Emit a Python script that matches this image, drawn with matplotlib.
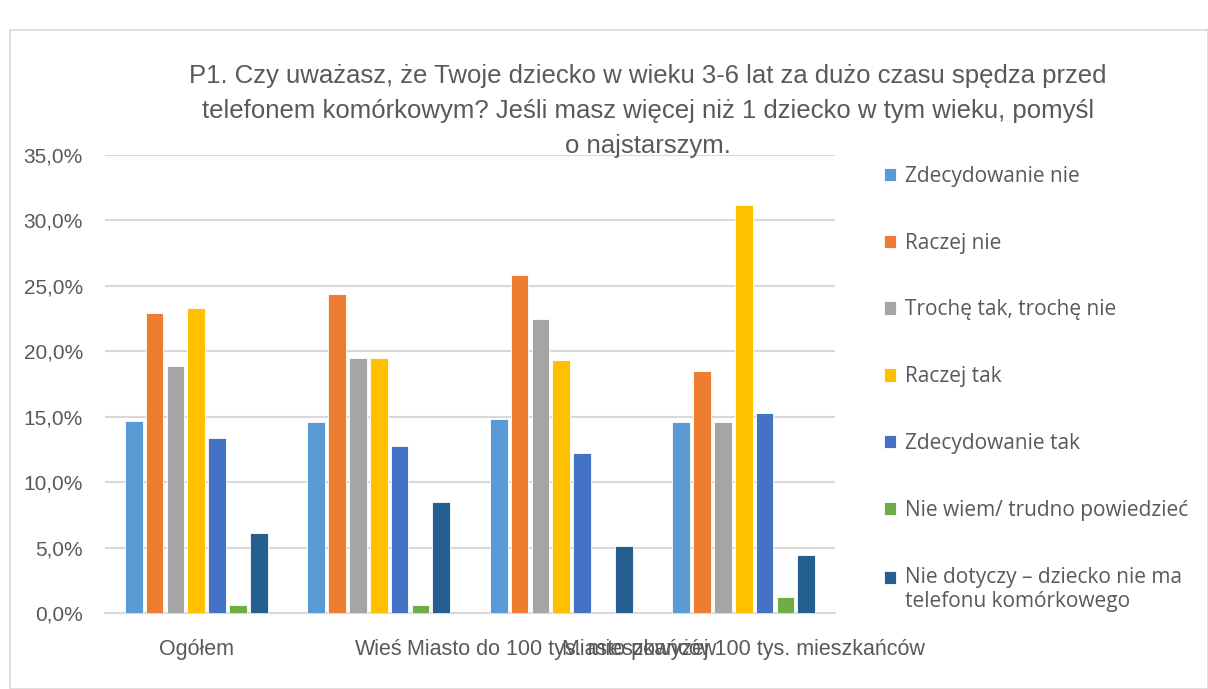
import numpy as np
import matplotlib
matplotlib.use('Agg')
import matplotlib.pyplot as plt
from matplotlib.ticker import FuncFormatter
from matplotlib.patches import Rectangle

kategorie = ['Ogółem', 'Wieś', 'Miasto do 100 tys. mieszkańców', 'Miasto powyżej 100 tys. mieszkańców']

odpowiedzi = ['Zdecydowanie nie', 'Raczej nie', 'Trochę tak, trochę nie', 'Raczej tak',
              'Zdecydowanie tak', 'Nie wiem/ trudno powiedzieć',
              'Nie dotyczy – dziecko nie ma\ntelefonu komórkowego']

zdecydowanie_nie = [14.7, 14.6, 14.8, 14.6]
raczej_nie = [22.9, 24.4, 25.8, 18.5]
troche = [18.9, 19.5, 22.5, 14.6]
raczej_tak = [23.3, 19.5, 19.3, 31.2]
zdecydowanie_tak = [13.4, 12.8, 12.2, 15.3]
nie_wiem = [0.6, 0.6, 0.0, 1.2]
nie_dotyczy = [6.1, 8.5, 5.1, 4.4]

serie = [zdecydowanie_nie, raczej_nie, troche, raczej_tak, zdecydowanie_tak, nie_wiem, nie_dotyczy]
kolory = ['#5B9BD5', '#ED7D31', '#A5A5A5', '#FFC000', '#4472C4', '#70AD47', '#255E91']

szary = '#595959'
font_tytul = ['Liberation Sans', 'DejaVu Sans']
font_tekst = ['Open Sans', 'DejaVu Sans']

fig = plt.figure(figsize=(12.08, 6.89), dpi=100)
# ramka wykresu
fig.patches.append(Rectangle((10 / 1208, 0), 1 - 10 / 1208, 1 - 30 / 689, transform=fig.transFigure,
                             fill=False, edgecolor='#D9D9D9', linewidth=1.2))

ax = fig.add_axes([105 / 1208, 1 - 613 / 689, 730 / 1208, 458 / 689])

x = np.arange(len(kategorie))
slot = 0.8 / len(serie)
for i, (wartosci, kolor) in enumerate(zip(serie, kolory)):
    pos = x - 0.4 + slot * (i + 0.5)
    ax.bar(pos, wartosci, width=slot * 0.85, color=kolor, edgecolor='white', linewidth=0.6,
           label=odpowiedzi[i], zorder=3)

ax.set_xlim(-0.5, len(kategorie) - 0.5)
ax.set_ylim(0, 35)
ax.set_yticks(np.arange(0, 36, 5))
ax.yaxis.set_major_formatter(FuncFormatter(lambda v, p: f'{v:.1f}%'.replace('.', ',')))
ax.grid(axis='y', color='#D9D9D9', linewidth=1.5, zorder=0)
for s in ['top', 'right', 'left']:
    ax.spines[s].set_visible(False)
ax.spines['bottom'].set_color('#D9D9D9')
ax.spines['bottom'].set_linewidth(1.5)
ax.tick_params(axis='both', length=0, colors=szary)
ax.tick_params(axis='y', pad=16)
ax.tick_params(axis='x', pad=19)
ax.set_xticks(x)
ax.set_xticklabels(kategorie, family=font_tytul, fontsize=15.5)
for lab in ax.get_yticklabels():
    lab.set_family(font_tytul)
    lab.set_fontsize(15)

fig.text(648 / 1208, 1 - 111 / 689,
         'P1. Czy uważasz, że Twoje dziecko w wieku 3-6 lat za dużo czasu spędza przed\n'
         'telefonem komórkowym? Jeśli masz więcej niż 1 dziecko w tym wieku, pomyśl\n'
         'o najstarszym.',
         ha='center', va='center', fontsize=18.5, color=szary, family=font_tytul, linespacing=1.6)

leg = ax.legend(loc='upper left', bbox_to_anchor=(865 / 1208, 1 - 147 / 689),
                bbox_transform=fig.transFigure, frameon=False, handlelength=0.6, handleheight=0.6,
                handletextpad=0.4, labelspacing=2.2, prop={'family': font_tekst, 'size': 15})
for t in leg.get_texts():
    t.set_color(szary)
# kwadrat ostatniej pozycji przy pierwszej linii tekstu
ostatni = leg.legend_handles[-1]
ostatni.set_y(ostatni.get_y() + 9)

fig.savefig('out.png', dpi=100, facecolor='white')
